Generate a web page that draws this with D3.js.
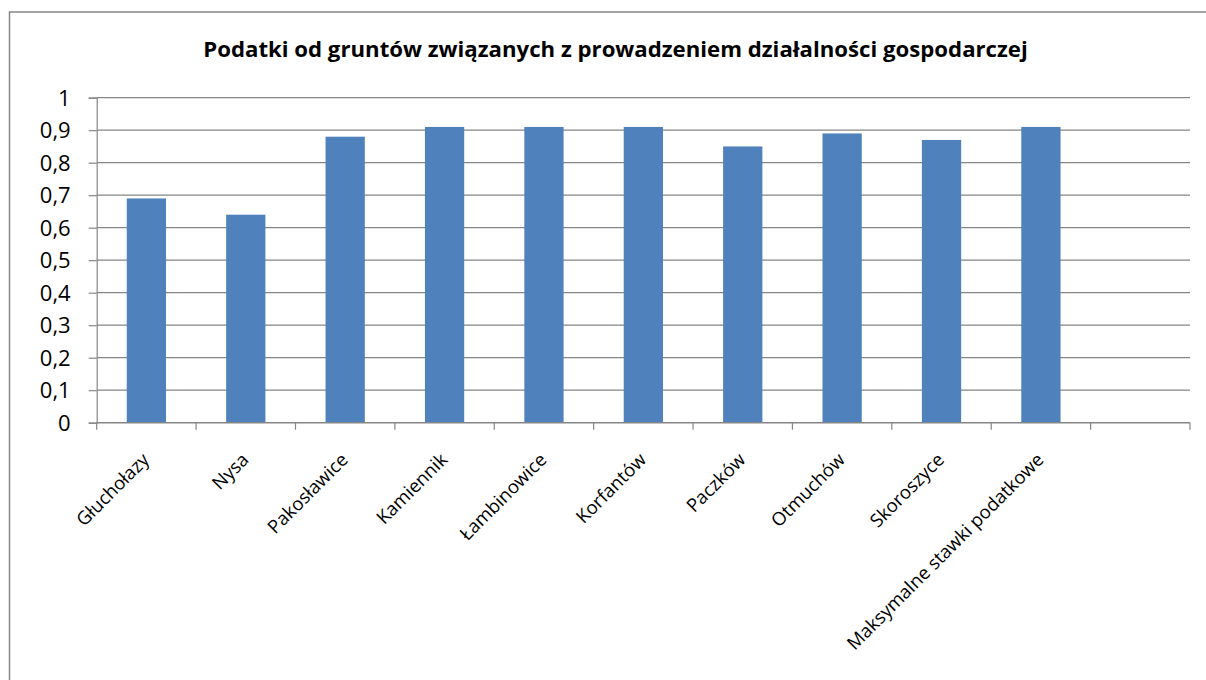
<!DOCTYPE html>
<html>
<head>
<meta charset="utf-8">
<script src="https://cdn.jsdelivr.net/npm/d3@7"></script>
<style>
  html, body { margin: 0; padding: 0; background: #fff; }
  svg { display: block; }
</style>
</head>
<body>
<script>
const title = "Podatki od gruntów związanych z prowadzeniem działalności gospodarczej";
const categories = ["Głuchołazy", "Nysa", "Pakosławice", "Kamiennik", "Łambinowice", "Korfantów", "Paczków", "Otmuchów", "Skoroszyce", "Maksymalne stawki podatkowe", ""];
const values = [0.69, 0.64, 0.88, 0.91, 0.91, 0.91, 0.85, 0.89, 0.87, 0.91, null];
const yTicks = [0, 0.1, 0.2, 0.3, 0.4, 0.5, 0.6, 0.7, 0.8, 0.9, 1];

(function () {
const W = 1206, H = 680;
const FONT = "'Open Sans', 'Noto Sans', sans-serif";
const svg = d3.select("body").append("svg").attr("width", W).attr("height", H);

// chart border
svg.append("rect").attr("x", 9.5).attr("y", 12).attr("width", 1210).attr("height", 700)
  .attr("fill", "#fff").attr("stroke", "#868686").attr("stroke-width", 1.5);

const pLeft = 96.7, pRight = 1190, pTop = 97.7, pBottom = 422.7;

const x = d3.scaleBand().domain(d3.range(categories.length)).range([pLeft, pRight]).padding(0);
const y = d3.scaleLinear().domain([0, 1]).range([pBottom, pTop]);

// gridlines
svg.append("g").selectAll("line").data(yTicks.filter(d => d > 0)).join("line")
  .attr("x1", pLeft).attr("x2", pRight)
  .attr("y1", d => y(d)).attr("y2", d => y(d))
  .attr("stroke", "#868686").attr("stroke-width", 1.2);

// bars
const barW = x.bandwidth() * 0.395;
svg.append("g").selectAll("rect").data(values.map((v, i) => ({v, i})).filter(d => d.v != null)).join("rect")
  .attr("x", d => x(d.i) + x.bandwidth() / 2 - barW / 2)
  .attr("width", barW)
  .attr("y", d => y(d.v))
  .attr("height", d => y(0) - y(d.v))
  .attr("fill", "#4F81BD");

// y axis
const yAxis = d3.axisLeft(y).tickValues(yTicks).tickSize(8).tickPadding(18)
  .tickFormat(d => d3.format("~g")(d).replace(".", ","));
const gy = svg.append("g").attr("transform", `translate(${pLeft},0)`).call(yAxis);
gy.select(".domain").attr("stroke", "#868686").attr("stroke-width", 1.2);
gy.selectAll(".tick line").attr("stroke", "#868686").attr("stroke-width", 1.2);
gy.selectAll(".tick text").attr("font-family", FONT).attr("font-size", 22).attr("fill", "#000")
  .attr("x", -26).attr("dy", "0.35em");

// x axis (ticks at category boundaries)
const boundaries = d3.range(categories.length + 1).map(i => pLeft + i * x.step());
svg.append("line").attr("x1", pLeft).attr("x2", pRight).attr("y1", pBottom).attr("y2", pBottom)
  .attr("stroke", "#868686").attr("stroke-width", 1.5);
svg.append("g").selectAll("line").data(boundaries).join("line")
  .attr("x1", d => d).attr("x2", d => d).attr("y1", pBottom).attr("y2", pBottom + 7)
  .attr("stroke", "#868686").attr("stroke-width", 1.2);

// category labels
const catLabels = svg.append("g").selectAll("text").data(categories.map((c, i) => ({c, i})).filter(d => d.c)).join("text")
  .attr("transform", d => `translate(${x(d.i) + x.bandwidth() / 2},457) rotate(-45)`)
  .attr("text-anchor", "end").attr("dy", "0.3em")
  .attr("font-family", FONT).attr("font-size", 16).attr("fill", "#000")
  .text(d => d.c);
const longest = catLabels.filter(d => d.i === 9).node();
const lenL = longest.getComputedTextLength();
const catSize = Math.max(13, Math.min(19, 16 * 269 / lenL));
catLabels.attr("font-size", catSize);

// title
const t = svg.append("text").attr("x", 615.5).attr("y", 57).attr("text-anchor", "middle")
  .attr("font-family", FONT).attr("font-weight", "bold").attr("font-size", 20).attr("fill", "#000")
  .text(title);
const tl = t.node().getComputedTextLength();
t.attr("font-size", Math.max(16, Math.min(24, 20 * 825 / tl)));
})();
</script>
</body>
</html>
